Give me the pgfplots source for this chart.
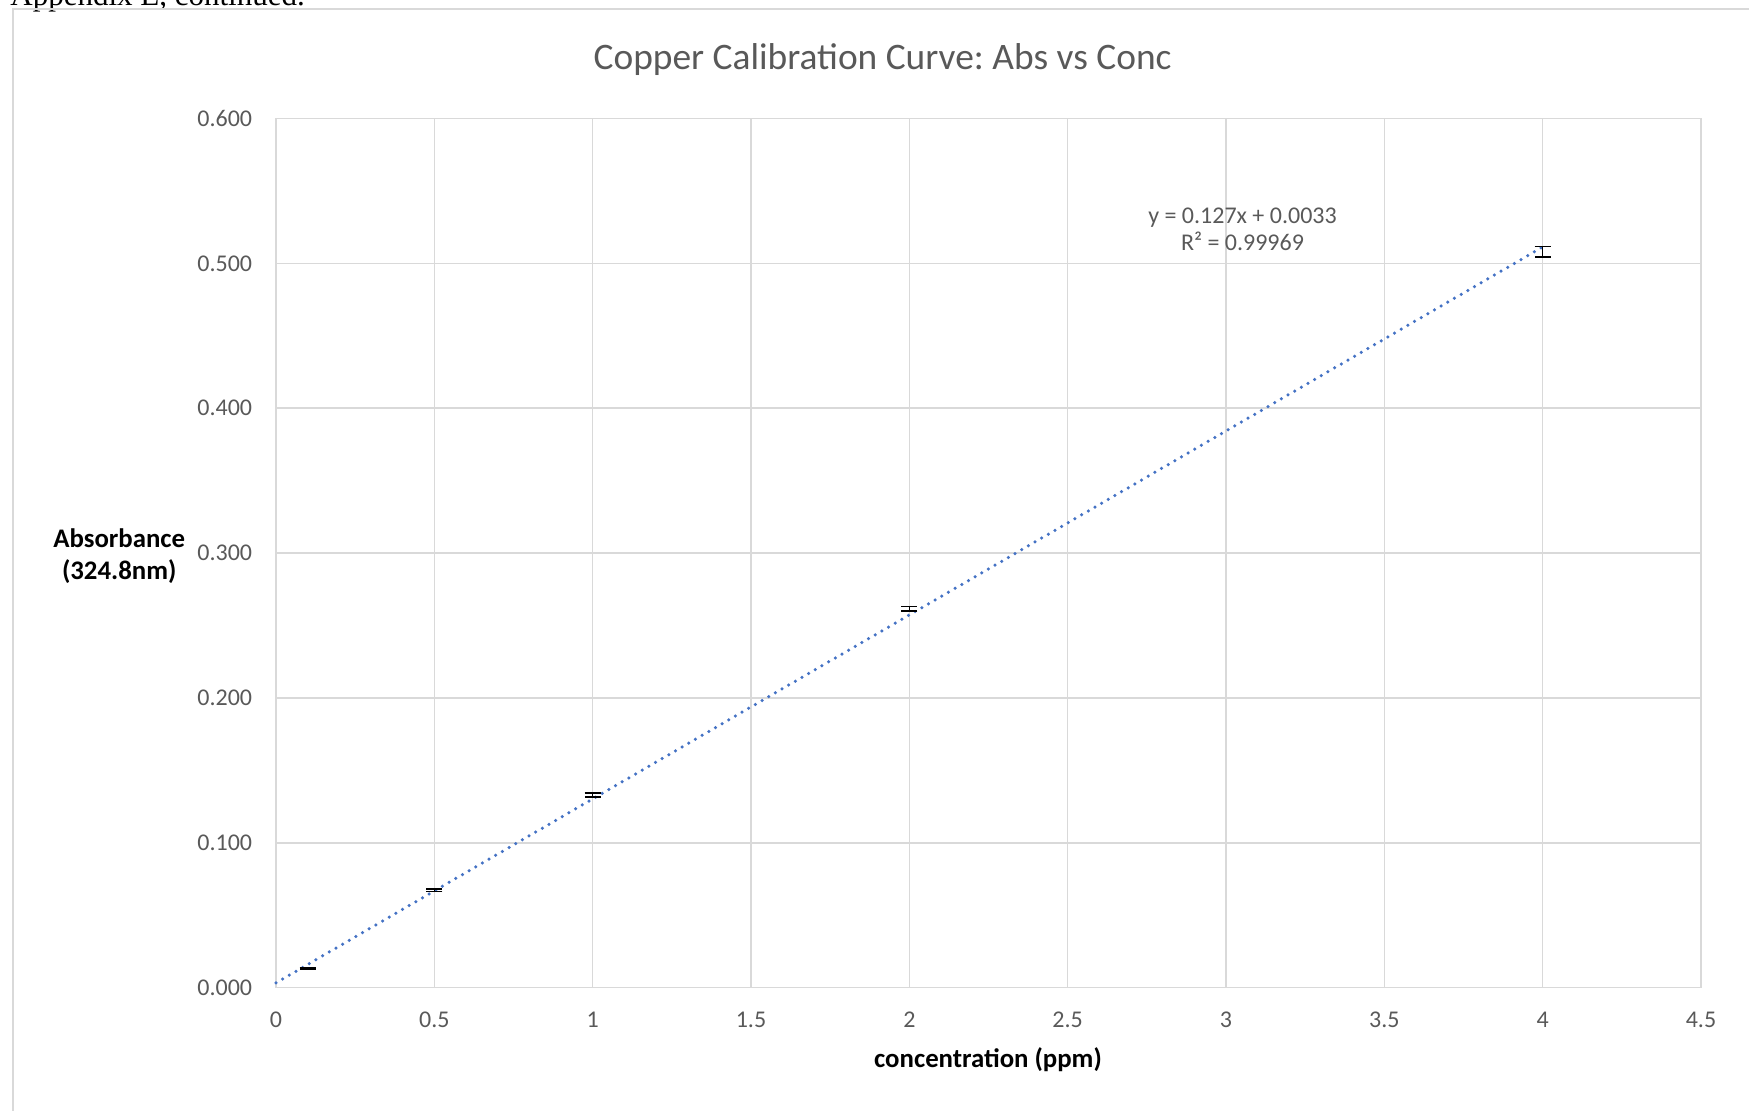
\documentclass[border=0pt]{standalone}
\usepackage{pgfplots}
\pgfplotsset{compat=1.18}
\usepackage{fontspec}
\setmainfont{Carlito}
\newfontfamily\docserif{Liberation Serif}
\definecolor{gridgray}{HTML}{D9D9D9}
\definecolor{textgray}{HTML}{595959}
\definecolor{trendblue}{HTML}{4472C4}

\pgfplotstableread{
x    y       err
0.1  0.0131  0.0004
0.5  0.0673  0.0008
1    0.1330  0.0014
2    0.2616  0.0015
4    0.5081  0.0037
}\copperdata

\begin{document}
\frenchspacing
\begin{tikzpicture}
\useasboundingbox (0,0) rectangle (874.5pt,555.5pt);
\clip (0,0) rectangle (874.5pt,555.5pt);
% heading of the page, running above the chart frame
\node[anchor=base west, inner sep=0pt, font=\docserif\fontsize{15.5}{18}\selectfont]
  at (5pt,552.8pt) {Appendix E, continued.};
% chart frame
\draw[gridgray, line width=1pt] (6.25pt,-5pt) -- (6.25pt,550.75pt) -- (880pt,550.75pt);

\begin{axis}[
  at={(138pt,61.65pt)}, anchor=south west,
  scale only axis, width=712.5pt, height=434.6pt,
  xmin=0, xmax=4.5, ymin=0, ymax=0.6,
  xtick={0,0.5,1,1.5,2,2.5,3,3.5,4,4.5},
  ytick={0,0.1,0.2,0.3,0.4,0.5,0.6},
  grid=major,
  major grid style={gridgray, line width=0.75pt},
  axis line style={gridgray, line width=0.75pt},
  major tick length=0pt,
  /pgf/number format/assume math mode=true,
  tick label style={textgray, font=\fontsize{12}{14}\selectfont},
  yticklabel style={anchor=east, inner sep=0pt, xshift=-11.75pt,
    /pgf/number format/.cd, fixed, fixed zerofill, precision=3, /tikz/.cd},
  xticklabel style={anchor=center, yshift=-15.9pt},
  clip=false,
]
% linear trendline
\addplot[trendblue, line width=1.75pt, line cap=round, dash pattern=on 0pt off 3.85pt]
  coordinates {(0,0.0033) (4,0.5113)};
% measured absorbances: error bars only, no markers
\addplot[draw=none, mark=none,
  error bars/.cd, y dir=both, y explicit,
  error mark=|,
  error bar style={draw=black, solid, line width=0.75pt},
  error mark options={draw=black, solid, line width=0.75pt, mark size=4pt}]
  table[x=x, y=y, y error=err] {\copperdata};
\end{axis}

% title
\node[anchor=base, inner sep=0pt, text=textgray, font=\fontsize{18.7}{22}\selectfont]
  at (441.3pt,520.5pt) {Copper Calibration Curve: Abs vs Conc};
% axis titles
\node[align=center, inner sep=0pt, font=\bfseries\fontsize{13.4}{16}\selectfont]
  at (59.6pt,277.5pt) {Absorbance\\(324.8nm)};
\node[inner sep=0pt, font=\bfseries\fontsize{13.4}{16}\selectfont]
  at (494pt,25.7pt) {concentration (ppm)};
% trendline equation
\node[anchor=base, inner sep=0pt, text=textgray, font=\fontsize{12}{14}\selectfont]
  at (621.25pt,443.65pt) {y = 0.127x + 0.0033};
\node[anchor=base, inner sep=0pt, text=textgray, font=\fontsize{12}{14}\selectfont]
  at (621.25pt,430.15pt) {R² = 0.99969};
\end{tikzpicture}
\end{document}
